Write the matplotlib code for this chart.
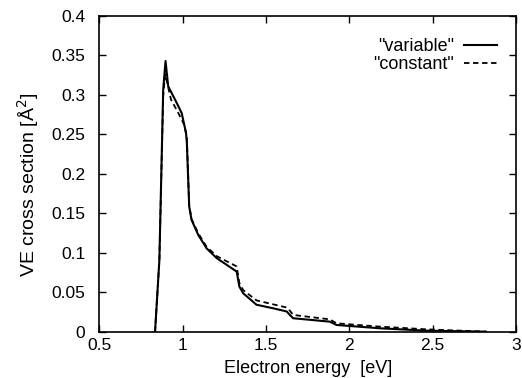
import matplotlib
matplotlib.use("Agg")
import matplotlib.pyplot as plt

plt.rcParams['font.family'] = ['Liberation Sans', 'DejaVu Sans']

e_var = [0.834, 0.86, 0.883, 0.897, 0.913, 0.964, 0.994, 1.02, 1.025, 1.039, 1.053,
         1.093, 1.143, 1.204, 1.324, 1.34, 1.363, 1.443, 1.543, 1.624, 1.643, 1.663,
         1.883, 1.923, 2.183, 2.463, 2.82]
v_var = [0.0, 0.091, 0.307, 0.343, 0.311, 0.290, 0.277, 0.252, 0.239, 0.159, 0.142,
         0.123, 0.106, 0.0935, 0.0765, 0.0575, 0.049, 0.0345, 0.030, 0.026, 0.0216, 0.0174,
         0.0131, 0.0089, 0.0047, 0.0017, 0.0004]

e_con = [0.834, 0.86, 0.883, 0.895, 0.93, 0.973, 1.01, 1.025, 1.039, 1.053, 1.093,
         1.143, 1.204, 1.324, 1.34, 1.363, 1.443, 1.543, 1.624, 1.643, 1.663, 1.883,
         1.923, 2.183, 2.463, 2.82]
v_con = [0.0, 0.091, 0.300, 0.326, 0.294, 0.2775, 0.262, 0.245, 0.160, 0.143, 0.125,
         0.108, 0.096, 0.083, 0.062, 0.053, 0.040, 0.035, 0.031, 0.027, 0.0216, 0.016,
         0.011, 0.0068, 0.0034, 0.0004]

xticks = [0.5, 1, 1.5, 2, 2.5, 3]
xticklabels = ["0.5", "1", "1.5", "2", "2.5", "3"]
yticks = [0, 0.05, 0.1, 0.15, 0.2, 0.25, 0.3, 0.35, 0.4]
yticklabels = ["0", "0.05", "0.1", "0.15", "0.2", "0.25", "0.3", "0.35", "0.4"]

fig = plt.figure(figsize=(5.22, 3.78), dpi=100)
ax = fig.add_axes([0.1904, 0.1217, 0.798, 0.836])

ax.plot(e_var, v_var, color='black', lw=1.5, ls='-', label='"variable"')
ax.plot(e_con, v_con, color='black', lw=1.3, ls=(0, (3, 2)), label='"constant"')

ax.set_xlim(0.5, 3)
ax.set_ylim(0, 0.4)
ax.set_xticks(xticks)
ax.set_xticklabels(xticklabels)
ax.set_yticks(yticks)
ax.set_yticklabels(yticklabels)
ax.tick_params(direction='in', top=True, right=True, length=5, width=1, labelsize=12.5)
ax.tick_params(axis='x', pad=4)
ax.tick_params(axis='y', pad=10)
for s in ax.spines.values():
    s.set_linewidth(1.2)

ax.set_xlabel("Electron energy  [eV]", fontsize=13)
ax.xaxis.set_label_coords(0.5, -0.1313)
ax.xaxis.label.set_va('baseline')

ax.set_ylabel("VE cross section [Å$^2$]", fontsize=14)
ax.yaxis.label.set_va('center')
ax.yaxis.set_label_coords(-0.172, 0.465)

leg = ax.legend(loc='upper right', frameon=False, fontsize=13, markerfirst=False,
                handlelength=1.8, handletextpad=0.55, labelspacing=0.05,
                borderpad=0, borderaxespad=0,
                bbox_to_anchor=(0.954, 0.930))
for t in leg.get_texts():
    t.set_ha('right')

fig.savefig("out.png", dpi=100)
